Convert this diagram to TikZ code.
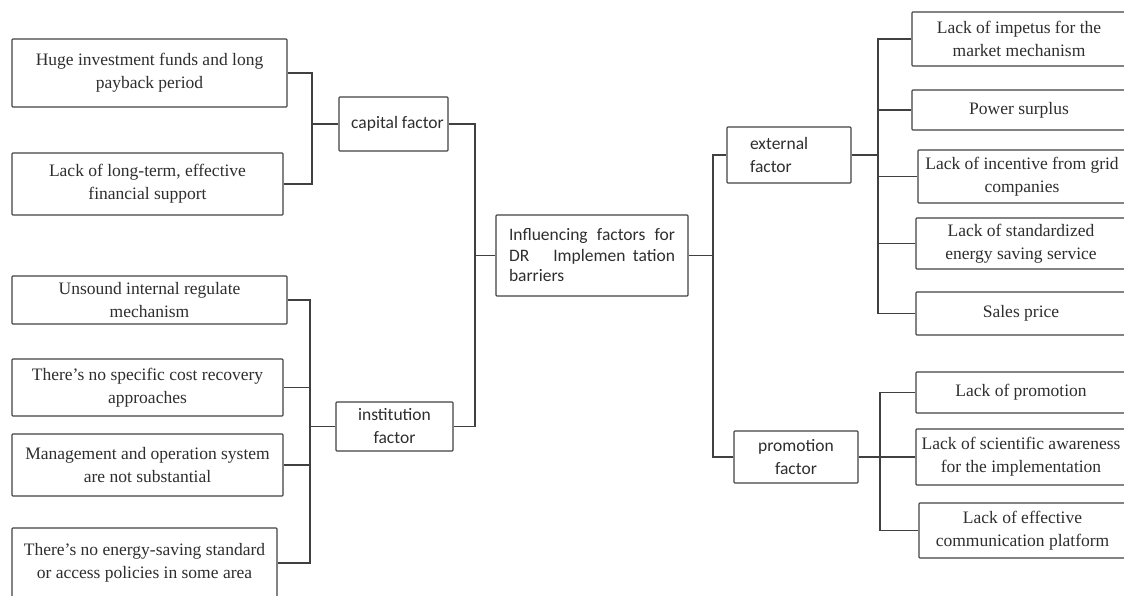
\documentclass[tikz,border=0pt]{standalone}
\usepackage{fontspec}
\setmainfont{Liberation Serif}
\newfontfamily\factorfont{Carlito}
\colorlet{linegray}{black!75}
\colorlet{textgray}{black!82}
\begin{document}
\begin{tikzpicture}[x=1pt,y=-1pt,
  box/.style={draw=linegray,line width=1.1pt,rounded corners=0.8pt,inner sep=0pt,text=textgray,align=center},
  leaf/.style={box,font=\fontsize{17.5}{23}\selectfont},
  factor/.style={box,font=\factorfont\fontsize{17.5}{23}\selectfont},
  link/.style={draw=linegray,line width=1.1pt}]
\useasboundingbox (0,0) rectangle (1124,596);
\clip (0,0) rectangle (1124,596);

% Root
\node[factor,minimum width=192,minimum height=81,align=left,font=\factorfont\fontsize{17.5}{20.5}\selectfont] (barrier) at (592,255.5)
  {\makebox[166pt][s]{Influencing factors for}\\\makebox[166pt][s]{DR\hspace{24pt}Implemen tation}\\barriers};

% Left branch: capital factor
\node[factor,minimum width=109,minimum height=54] (capital) at (393.5,124) {\hspace*{8pt}capital factor};
\node[leaf,minimum width=275,minimum height=68] (huge) at (149.5,73) {Huge investment funds and long\\payback period};
\node[leaf,minimum width=271,minimum height=62] (longterm) at (147.5,184) {Lack of long-term, effective\\financial support};

% Left branch: institution factor
\node[factor,minimum width=117,minimum height=49] (institution) at (394.5,426.5) {institution\\factor};
\node[leaf,minimum width=275,minimum height=48] (unsound) at (149.5,300) {Unsound internal regulate\\mechanism};
\node[leaf,minimum width=271,minimum height=57] (costrec) at (147.5,387.5) {There's no specific cost recovery\\approaches};
\node[leaf,minimum width=271,minimum height=62] (manage) at (147.5,465) {Management and operation system\\are not substantial};
\node[leaf,minimum width=265,minimum height=70] (energystd) at (144.5,563) {There's no energy-saving standard\\or access policies in some area};

% Right branch: external factor
\node[factor,minimum width=124,minimum height=56,text width=78pt,inner xsep=23pt,align=left] (external) at (789,155) {external\\factor};
\node[leaf,minimum width=214,minimum height=54] (impetus) at (1019,39) {Lack of impetus for the\\market mechanism};
\node[leaf,minimum width=214,minimum height=40] (surplus) at (1019,110) {Power surplus};
\node[leaf,minimum width=208,minimum height=53] (incentive) at (1022,176.5) {Lack of incentive from grid\\companies};
\node[leaf,minimum width=210,minimum height=51] (standard) at (1021,243.5) {Lack of standardized\\energy saving service};
\node[leaf,minimum width=210,minimum height=43] (sales) at (1021,313.5) {Sales price};

% Right branch: promotion factor
\node[factor,minimum width=124,minimum height=52] (promotion) at (796,457) {promotion\\factor};
\node[leaf,minimum width=210,minimum height=41] (lackpromo) at (1021,392.5) {Lack of promotion};
\node[leaf,minimum width=210,minimum height=56] (scientific) at (1021,457) {Lack of scientific awareness\\for the implementation};
\node[leaf,minimum width=207,minimum height=55] (effective) at (1022.5,530.5) {Lack of effective\\communication platform};

% Junctions
\coordinate (capjoin) at (312,124);
\coordinate (instjoin) at (310,426.5);
\coordinate (rootjoin) at (475,255.5);
\coordinate (rightjoin) at (713,255.5);
\coordinate (extjoin) at (878,155);
\coordinate (promjoin) at (880,457);

% Connectors
\draw[link] (huge.east) -| (capjoin) |- (longterm.east);
\draw[link] (capjoin) -- (capital.west);
\draw[link] (unsound.east) -| (instjoin) |- (energystd.east);
\foreach \n in {costrec,manage}
  \draw[link] (\n.east) -| (instjoin);
\draw[link] (instjoin) -- (institution.west);
\draw[link] (capital.east) -| (rootjoin) |- (institution.east);
\draw[link] (rootjoin) -- (barrier.west);
\draw[link] (barrier.east) -- (rightjoin);
\draw[link] (external.west) -| (rightjoin) |- (promotion.west);
\draw[link] (external.east) -- (extjoin);
\draw[link] (impetus.west) -| (extjoin) |- (sales.west);
\foreach \n in {surplus,incentive,standard}
  \draw[link] (\n.west) -| (extjoin);
\draw[link] (promotion.east) -- (promjoin);
\draw[link] (lackpromo.west) -| (promjoin) |- (effective.west);
\draw[link] (scientific.west) -- (promjoin);
\end{tikzpicture}
\end{document}
